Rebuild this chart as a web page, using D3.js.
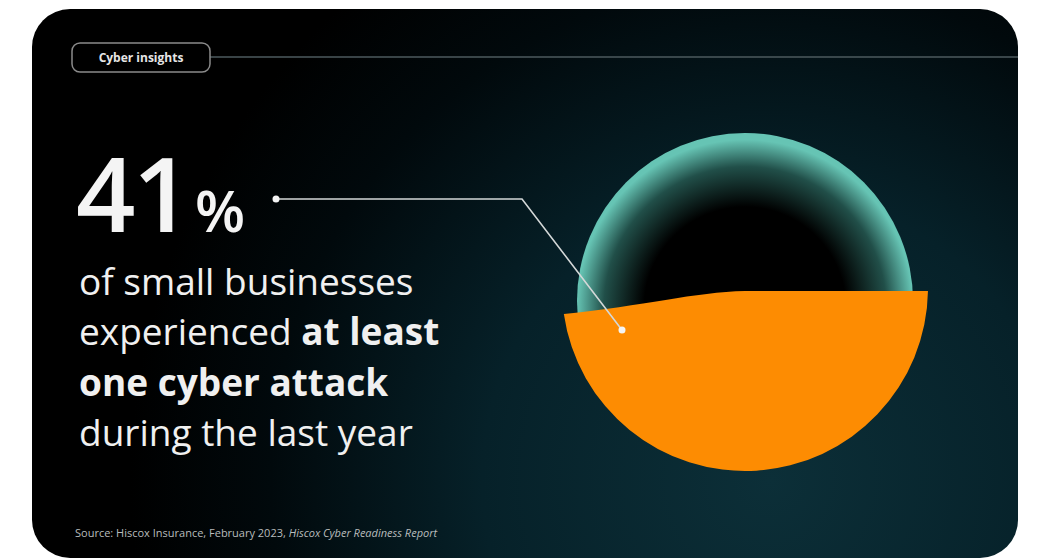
<!DOCTYPE html>
<html>
<head>
<meta charset="utf-8">
<script src="https://cdn.jsdelivr.net/npm/d3@7"></script>
<style>
  html, body { margin: 0; padding: 0; background: #fff; }
  svg { display: block; }
</style>
</head>
<body>
<div id="chart"></div>
<script>
// chart values
var statValue = [41];
var statUnit = ["%"];
var statLines = [
  [{ t: "of small businesses", b: false }],
  [{ t: "experienced ", b: false }, { t: "at least", b: true }],
  [{ t: "one cyber attack", b: true }],
  [{ t: "during the last year", b: false }]
];
var tagLabel = ["Cyber insights"];
var sourceParts = [
  { t: "Source: Hiscox Insurance, February 2023, ", i: false },
  { t: "Hiscox Cyber Readiness Report", i: true }
];

// SVG area
var svgWidth = 1038;
var svgHeight = 558;

var svg = d3.select("#chart")
  .append("svg")
    .attr("width", svgWidth)
    .attr("height", svgHeight);

var defs = svg.append("defs");

// card background glow
var bg = defs.append("radialGradient")
  .attr("id", "bgGlow")
  .attr("gradientUnits", "userSpaceOnUse")
  .attr("cx", 770).attr("cy", 480).attr("r", 640);
bg.append("stop").attr("offset", "0").attr("stop-color", "#0c2f38");
bg.append("stop").attr("offset", "0.45").attr("stop-color", "#062129");
bg.append("stop").attr("offset", "0.78").attr("stop-color", "#01090c");
bg.append("stop").attr("offset", "1").attr("stop-color", "#000");

// sphere shading
var sph = defs.append("radialGradient")
  .attr("id", "sphere")
  .attr("cx", "0.5").attr("cy", "0.52").attr("r", "0.5");
sph.append("stop").attr("offset", "0").attr("stop-color", "#000");
sph.append("stop").attr("offset", "0.6").attr("stop-color", "#000");
sph.append("stop").attr("offset", "0.84").attr("stop-color", "#214f49");
sph.append("stop").attr("offset", "1").attr("stop-color", "#66c4b4");

// card
svg.append("rect")
  .attr("x", 32).attr("y", 9)
  .attr("width", 986).attr("height", 549)
  .attr("rx", 38)
  .attr("fill", "url(#bgGlow)");

// tag pill + rule
var tag = svg.append("g");
tag.append("line")
  .attr("x1", 210).attr("x2", 1018)
  .attr("y1", 57).attr("y2", 57)
  .attr("stroke", "#4d5a5e")
  .attr("stroke-width", 1.5);
tag.append("rect")
  .attr("x", 72).attr("y", 43)
  .attr("width", 138).attr("height", 29)
  .attr("rx", 8)
  .attr("fill", "none")
  .attr("stroke", "#8a8a8a")
  .attr("stroke-width", 1.5);
tag.append("text")
  .attr("x", 141).attr("y", 62)
  .attr("text-anchor", "middle")
  .style("font-family", "'Open Sans', sans-serif")
  .style("font-weight", 700)
  .style("font-size", "12px")
  .style("fill", "#e6e6e6")
  .text(tagLabel[0]);

// sphere geometry
var cx = 745, cy = 288, R = 183;
var sphereR = 168, sphereCy = 301;

// fill level scale: percentage -> liquid surface height
var level = d3.scaleLinear()
  .domain([0, 100])
  .range([cy + R, cy + R - 2.4 * R]);

svg.append("circle")
  .attr("cx", cx).attr("cy", sphereCy)
  .attr("r", sphereR)
  .attr("fill", "url(#sphere)");

// orange liquid
var lvl = level(statValue[0]);
var lvlLeft = lvl + 23;
var aR = Math.asin((lvl - cy) / R);
var aL = Math.PI - Math.asin((lvlLeft - cy) / R);
var xL = cx + R * Math.cos(aL);

var p = d3.path();
p.arc(cx, cy, R, aR, aL);
p.bezierCurveTo(xL + 80, lvlLeft - 8, cx - 50, lvl + 1, cx, lvl);
p.closePath();

svg.append("path")
  .attr("d", p.toString())
  .attr("fill", "#fd8c02");

// big number
var big = svg.append("text")
  .attr("x", 76).attr("y", 232)
  .style("font-family", "'Open Sans', sans-serif")
  .style("fill", "#f4f4f4");
big.append("tspan")
  .style("font-size", "104px")
  .style("font-weight", 600)
  .style("letter-spacing", "-3px")
  .text(statValue[0]);
big.append("tspan")
  .attr("dx", 6)
  .style("font-size", "58px")
  .style("font-weight", 600)
  .text(statUnit[0]);

// leader line
var leader = [[276, 199], [522, 199], [622, 330]];
svg.append("path")
  .attr("d", d3.line()(leader))
  .attr("fill", "none")
  .attr("stroke", "#d4d8d8")
  .attr("stroke-width", 1.6);
svg.selectAll("circle.end")
  .data([leader[0], leader[2]])
  .enter()
  .append("circle")
    .attr("class", "end")
    .attr("cx", function(d) { return d[0]; })
    .attr("cy", function(d) { return d[1]; })
    .attr("r", 3.5)
    .attr("fill", "#f4f4f4");

// statement lines
var lineY = d3.scalePoint()
  .domain(d3.range(statLines.length))
  .range([295, 446]);

svg.selectAll("text.stmt")
  .data(statLines)
  .enter()
  .append("text")
    .attr("class", "stmt")
    .attr("x", 79)
    .attr("y", function(d, i) { return lineY(i); })
    .style("font-family", "'Open Sans', sans-serif")
    .style("font-size", "37px")
    .style("fill", "#f0f0f0")
  .selectAll("tspan")
  .data(function(d) { return d; })
  .enter()
  .append("tspan")
    .style("font-weight", function(d) { return d.b ? 700 : 400; })
    .style("white-space", "pre")
    .text(function(d) { return d.t; });

// source
svg.append("text")
  .attr("x", 75).attr("y", 537)
  .style("font-family", "'Open Sans', sans-serif")
  .style("font-size", "11px")
  .style("fill", "#b8bcbc")
  .attr("xml:space", "preserve")
  .selectAll("tspan")
  .data(sourceParts)
  .enter()
  .append("tspan")
    .style("font-style", function(d) { return d.i ? "italic" : "normal"; })
    .text(function(d) { return d.t; });
</script>
</body>
</html>
